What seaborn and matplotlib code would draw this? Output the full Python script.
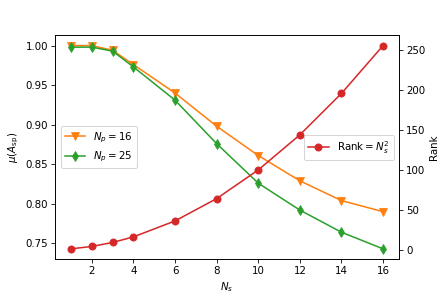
import pandas as pd
import matplotlib
matplotlib.use('Agg')
import matplotlib.pyplot as plt
import seaborn as sns

ns = [1, 2, 3, 4, 6, 8, 10, 12, 14, 16]
mu_np16 = [1.000, 1.000, 0.994, 0.976, 0.940, 0.898, 0.861, 0.829, 0.804, 0.790]
mu_np25 = [0.998, 0.998, 0.993, 0.973, 0.931, 0.876, 0.826, 0.792, 0.764, 0.743]
rank = [1, 4, 9, 16, 36, 64, 100, 144, 196, 256]

dpi = 443 / 6
fig, ax = plt.subplots(figsize=(6, 295 / dpi), dpi=dpi)
fig.subplots_adjust(left=0.125, right=0.9, top=0.88, bottom=0.122)

sns.lineplot(x=ns, y=mu_np16, ax=ax, color='tab:orange', marker='v', markersize=7,
             markeredgecolor='tab:orange', label=r'$N_p=16$')
sns.lineplot(x=ns, y=mu_np25, ax=ax, color='tab:green', marker='d', markersize=7,
             markeredgecolor='tab:green', label=r'$N_p=25$')
ax.set_xlabel(r'$N_s$')
ax.set_ylabel(r'$\mu(A_{\rm sp})$')
ax.set_xticks([2, 4, 6, 8, 10, 12, 14, 16])
ax.legend(loc='center left')

ax2 = ax.twinx()
sns.lineplot(x=ns, y=rank, ax=ax2, color='tab:red', marker='o', markersize=7,
             markeredgecolor='tab:red', label=r'Rank$=N_s^2$')
ax2.set_ylabel('Rank')
ax2.legend(loc='center right')

fig.savefig('out.png', dpi=dpi)
